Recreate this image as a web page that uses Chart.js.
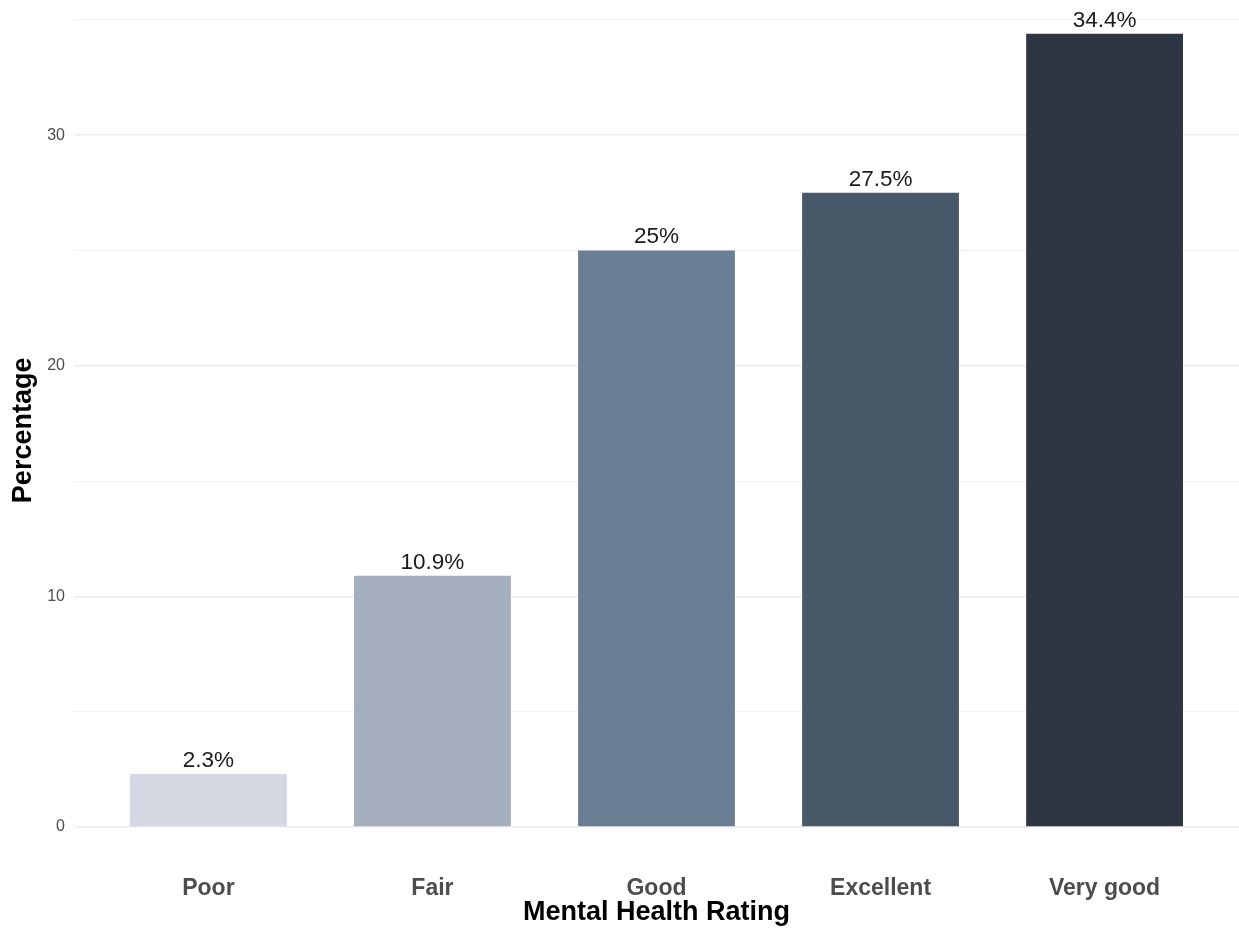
<!DOCTYPE html>
<html>
<head>
<meta charset="utf-8">
<script src="https://cdn.jsdelivr.net/npm/chart.js@4"></script>
<style>
  html, body { margin: 0; padding: 0; background: #fff; overflow: hidden; }
  #wrap { width: 1239px; height: 930px; overflow: hidden; }
  #myChart { display: block; margin-top: -7px; }
</style>
</head>
<body>
<div id="wrap"><canvas id="myChart" width="1239" height="937"></canvas></div>
<script>
const categories = ['Poor', 'Fair', 'Good', 'Excellent', 'Very good'];
const percentages = [2.3, 10.9, 25, 27.5, 34.4];
const barColors = ['#d3d8e2', '#a5aebd', '#6a7f93', '#475869', '#2e3644'];
const gridValues = [0, 5, 10, 15, 20, 25, 30, 35];
const yTickLabels = [0, 10, 20, 30];

const FONT = '"Liberation Sans", Arial, Helvetica, sans-serif';

// labels above each bar
const barLabels = {
    id: 'barLabels',
    afterDatasetsDraw(chart) {
        const ctx = chart.ctx;
        const meta = chart.getDatasetMeta(0);
        ctx.save();
        ctx.font = '22.5px ' + FONT;
        ctx.fillStyle = '#1a1a1a';
        ctx.textAlign = 'center';
        ctx.textBaseline = 'bottom';
        meta.data.forEach((bar, i) => {
            ctx.fillText(percentages[i] + '%', bar.x, bar.y - 2);
        });
        ctx.restore();
    }
};

function renderBarChart() {
    const ctx = document.getElementById('myChart');

    new Chart(ctx, {
        type: 'bar',
        data: {
            datasets: [{
                data: categories.map((c, i) => ({ x: i + 1, y: percentages[i] })),
                backgroundColor: barColors,
                borderColor: barColors,
                borderWidth: 0,
                barPercentage: 0.7,
                categoryPercentage: 1
            }]
        },
        options: {
            responsive: false,
            animation: false,
            layout: {
                padding: { top: 1, left: 0, right: 0, bottom: 0 }
            },
            plugins: {
                legend: { display: false },
                tooltip: { enabled: false }
            },
            scales: {
                x: {
                    type: 'linear',
                    offset: false,
                    min: 0.4,
                    max: 5.6,
                    afterBuildTicks: (axis) => {
                        axis.ticks = categories.map((c, i) => ({ value: i + 1 }));
                    },
                    afterFit: (axis) => { axis.height = 63.3; },
                    grid: { display: false, drawTicks: false },
                    border: { display: false },
                    ticks: {
                        padding: 8,
                        maxRotation: 0,
                        autoSkip: false,
                        color: '#4d4d4d',
                        font: { family: FONT, size: 23, weight: 'bold' },
                        callback: (value) => categories[value - 1] || ''
                    },
                    title: {
                        display: true,
                        text: 'Mental Health Rating',
                        color: '#000',
                        font: { family: FONT, size: 27, weight: 'bold' },
                        padding: { top: 0, bottom: 1 }
                    }
                },
                y: {
                    min: -1.72,
                    max: 36.12,
                    afterBuildTicks: (axis) => {
                        axis.ticks = gridValues.map(v => ({ value: v }));
                    },
                    afterFit: (axis) => {
                        axis.width = 74;
                        axis.paddingTop = 0;
                        axis.paddingBottom = 0;
                    },
                    grid: {
                        drawTicks: false,
                        color: (c) => yTickLabels.includes(c.tick.value) ? '#ebebeb' : '#f1f1f1',
                        lineWidth: (c) => yTickLabels.includes(c.tick.value) ? 1.6 : 1
                    },
                    border: { display: false },
                    ticks: {
                        padding: 9,
                        color: '#4d4d4d',
                        font: { family: FONT, size: 16 },
                        callback: (value) => yTickLabels.includes(value) ? String(value) : ''
                    },
                    title: {
                        display: true,
                        text: 'Percentage',
                        color: '#000',
                        font: { family: FONT, size: 27, weight: 'bold' },
                        padding: { top: 7, bottom: 0 }
                    }
                }
            }
        },
        plugins: [barLabels]
    });
}

renderBarChart();
</script>
</body>
</html>
